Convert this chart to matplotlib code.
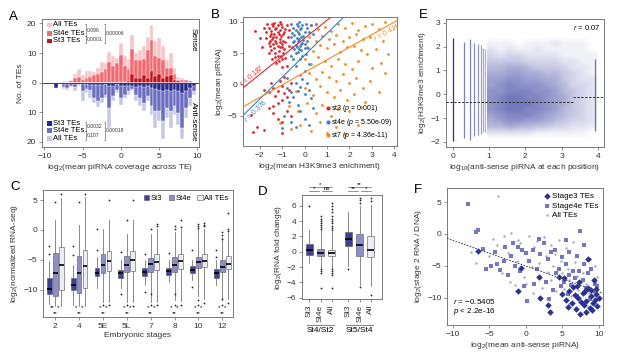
import numpy as np
import matplotlib
matplotlib.use("Agg")
import matplotlib.pyplot as plt
from matplotlib.patches import Patch, Rectangle
from matplotlib.colors import LinearSegmentedColormap

plt.rcParams['font.family'] = ['Liberation Sans', 'DejaVu Sans']
plt.rcParams['mathtext.fontset'] = 'custom'
plt.rcParams['mathtext.rm'] = 'Liberation Sans'
plt.rcParams['mathtext.it'] = 'Liberation Sans:italic'
plt.rcParams['font.size'] = 6
plt.rcParams['axes.linewidth'] = 0.6
plt.rcParams['axes.edgecolor'] = '#666666'
plt.rcParams['axes.labelsize'] = 6
plt.rcParams['axes.labelcolor'] = '#333333'
for a in ('xtick', 'ytick'):
    plt.rcParams[a + '.major.size'] = 2.5
    plt.rcParams[a + '.major.width'] = 0.5
    plt.rcParams[a + '.color'] = '#666666'
    plt.rcParams[a + '.labelcolor'] = '#333333'
    plt.rcParams[a + '.labelsize'] = 6
    plt.rcParams[a + '.major.pad'] = 1.5

# ---------------- A: piRNA coverage histogram ----------------
a_bins = [-8.5, -8.0, -7.5, -7.0, -6.5, -6.0, -5.5, -5.0, -4.5, -4.0, -3.5, -3.0, -2.5,
          -2.0, -1.5, -1.0, -0.5, 0.0, 0.5, 1.0, 1.5, 2.0, 2.5, 3.0, 3.5, 4.0, 4.5, 5.0,
          5.5, 6.0, 6.5, 7.0, 7.5, 8.0, 8.5, 9.0, 9.5]
a_sense_all = [0, 0, 0.5, 0.5, 1, 3, 4.5, 2.5, 4, 4, 3.5, 5, 7, 6.5, 10.5, 9, 8.5, 13.5, 9,
               8, 16, 10, 11, 12.5, 15.5, 19.5, 14, 15, 12.5, 7.5, 10, 5, 2, 1.5, 1, 0.5, 0]
a_sense_st4e = [0, 0, 0, 0, 0.5, 1.5, 2, 1, 1.5, 2, 2.5, 3, 3.5, 4.5, 7, 5.5, 6.5, 9.5, 5.5,
                4.5, 11.5, 7.5, 7.5, 8, 11, 14.5, 9, 8.5, 7.5, 5, 5, 3, 1, 0.8, 0.8, 0.5, 0]
a_sense_st3 = [0, 0, 0, 0, 0, 0, 0, 0, 0, 0, 0, 0, 0, 0, 0, 0, 0, 0.3, 0.3, 0.5, 2.8, 1.5,
               1.5, 2.5, 1.5, 3.8, 2.3, 2.8, 1.5, 2.3, 2.5, 1, 0.5, 0.3, 0.3, 0, 0]
a_anti_all = [1.8, 0.5, 2, 2.3, 1.5, 2.8, 1, 6.3, 3.5, 5, 6.9, 8.3, 6.9, 5, 15.4, 6.3, 3.4,
              7.4, 5, 4, 2.9, 6.3, 8, 9.7, 6.3, 10.9, 15.4, 13, 19, 12, 15.4, 10.9, 14.3,
              18.9, 12, 8, 4]
a_anti_st4e = [1.8, 0.3, 1.5, 1.9, 1.1, 1.5, 0.5, 2.9, 2, 2.3, 5.1, 6.3, 5.1, 4, 8.6, 4.6,
               2.3, 5.1, 4, 2.9, 2, 4, 5.1, 6.9, 4.6, 8, 9.7, 9.7, 13, 8.6, 9.7, 8, 10.3,
               15.4, 8.6, 5.1, 2.9]
a_anti_st3 = [1.8, 0, 0.5, 0.5, 0.5, 0.5, 0, 0.5, 0.5, 0.8, 0.8, 0.8, 0.8, 0.5, 1, 1, 0.5,
              1, 1, 1, 1.1, 1.5, 1.2, 1.5, 1.2, 1.8, 2, 2.3, 2.9, 2.3, 2.9, 2.3, 2.9, 3.4,
              2.9, 1.9, 1]
a_sense_labels = ['All TEs', 'St4e TEs', 'St3 TEs']
a_sense_p = ['0.096', '0.0001', '0.00006']
a_anti_labels = ['St3 TEs', 'St4e TEs', 'All TEs']
a_anti_p = ['0.0032', '0.107', '0.00018']

# ---------------- B: piRNA vs H3K9me3 ----------------
b_st3_x = [-1.6, -1.5, -1.4, -1.3, -1.2, -1.1, -1.0, -0.9, -1.55, -1.45, -1.35, -1.25, -1.15,
           -1.05, -0.95, -1.6, -1.4, -1.3, -1.2, -1.1, -1.0, -0.9, -1.5, -1.3, -1.15, -1.05,
           -0.85, -1.7, -1.65, -0.8, -1.35, -1.1, -0.75, -1.45, -1.25, -1.0, -0.8, -2.0, -2.2,
           -1.9, -1.45, -1.25, -1.05, -0.85, -1.5, -1.2, -0.95, -1.4, -1.1, -0.85, -1.55,
           -1.25, -1.0, -1.35, -1.1, -0.95, -1.2, -1.55, -1.7, -1.8, -0.7, -0.7, -1.0, -1.3,
           -1.6, -1.15,
           -1.4, -1.2, -1.0, -0.9, -1.1, -1.3, -0.7, -1.5, -0.8, -1.0, -1.6, -1.2, -1.4, -0.6,
           -0.9, -2.1, -1.8, -1.4, -1.2, -1.0, -0.8, -1.6, -2.4, -1.0, -0.6, -1.8, -2.3]
b_st3_y = [9.0, 8.5, 9.3, 8.8, 9.5, 8.7, 9.1, 8.4, 7.8, 7.2, 8.0, 7.5, 8.1, 7.7, 7.0, 6.6, 6.4,
           6.9, 6.2, 6.8, 6.0, 5.6, 5.5, 5.0, 5.4, 4.6, 4.2, 8.3, 9.6, 9.4, 9.8, 9.9, 7.5, 4.1,
           3.4, 2.8, 3.0, 7.4, 8.5, 6.0, 9.7, 9.0, 9.6, 8.9, 8.0, 8.4, 8.0, 7.6, 7.3, 6.8, 7.0,
           6.6, 6.5, 5.8, 5.9, 5.0, 4.5, 6.1, 7.4, 9.0, 8.6, 6.2, 4.0, 4.3, 5.0, 3.8,
           -0.5, -1.0, -0.3, -1.3, 0.5, -1.8, -0.8, 0.2, -2.0, -2.5, -1.2, -3.0, -3.5, 0.3,
           1.2, -6.8, -7.2, -4.6, -5.5, -6.0, -4.2, -3.8, -4.8, -7.8, -5.0, -0.8, -7.5]
b_st4e_x = [-0.5, -0.4, -0.3, -0.2, -0.1, 0.0, -0.45, -0.35, -0.25, -0.15, -0.05, -0.5, -0.4,
            -0.3, -0.2, -0.1, 0.0, -0.45, -0.3, -0.15, 0.05, -0.6, -0.25, 0.1, 0.3, 0.5, 0.1,
            -0.6, -0.2, 0.2, -0.4, 0.0, -0.55, -0.35, -0.15, 0.05, -0.45, -0.25, -0.05, -0.35,
            -0.15, -0.55, -0.25, 0.0, -0.4, -0.1, 0.15, -0.6, 0.2, -0.3, 0.4, -0.5,
            -0.8, -0.6, -0.4, -0.3, -0.2, 0.0, 0.2, -0.5, -0.1, 0.1, -0.7, -0.3, 0.3, -0.2, 0.0,
            -0.6, -0.9, -0.4, 0.4, -1.0, 0.2, -0.8]
b_st4e_y = [9.0, 8.6, 9.3, 8.8, 9.5, 8.4, 7.9, 7.4, 8.1, 7.6, 7.1, 6.8, 6.3, 6.9, 6.1, 6.6,
            5.8, 5.6, 5.2, 5.5, 4.8, 9.6, 9.9, 9.0, 9.4, 9.6, 7.0, 4.5, 4.0, 3.2, 3.0, 2.2, 8.2,
            9.6, 9.0, 9.7, 7.0, 7.2, 7.8, 6.0, 6.4, 5.9, 5.6, 6.5, 5.0, 4.5, 5.8, 7.5, 8.3,
            8.4, 8.0, 4.0,
            -0.5, -1.2, 0.3, -1.0, -0.4, -1.5, -0.8, -2.0, 0.8, 0.2, -2.8, -3.3, -2.2, -4.2,
            -5.5, -6.0, -5.0, -6.8, -3.8, -7.0, -6.5, 1.0]
b_st7_x = [0.3, 0.6, 0.9, 1.2, 1.5, 1.8, 2.1, 2.4, 2.7, 3.0, 3.3, 3.6,
           0.2, 0.5, 0.8, 1.1, 1.4, 1.7, 2.0, 2.3, 2.6, 2.9, 3.5,
           0.1, 0.4, 0.7, 1.0, 1.3, 1.6, 1.9, 2.2, 2.5, 2.8, 3.2, 3.7,
           0.0, 0.3, 0.6, 0.9, 1.2, 1.5, 1.8, 2.1, 2.4, 3.0, 3.4,
           -0.2, 0.2, 0.5, 0.8, 1.1, 1.4, 1.7, 2.0, 2.3, 2.6, 2.9, 3.6,
           -0.4, 0.0, 0.4, 0.7, 1.0, 1.3, 1.6, 1.9, 2.2, 2.7, 3.3,
           -0.7, -0.3, 0.1, 0.5, 0.8, 1.2, 1.5, 2.0, 2.5,
           -1.1, -0.6, -0.2, 0.3, 0.7, 1.0, 1.4, 1.8, 2.4]
b_st7_y = [9.5, 8.8, 9.2, 8.5, 9.6, 9.0, 9.8, 8.7, 9.3, 9.7, 8.8, 10.0,
           7.5, 7.0, 7.8, 7.3, 7.9, 6.9, 7.6, 8.0, 7.2, 7.5, 7.0,
           6.0, 5.4, 6.3, 5.8, 6.5, 5.2, 5.9, 6.2, 5.5, 4.8, 5.6, 4.8,
           4.0, 3.3, 4.4, 3.8, 2.9, 4.1, 3.2, 2.5, 3.7, 2.7, 3.5,
           1.5, 1.8, 0.8, 2.0, 1.2, 0.5, 1.6, 0.2, 1.0, -0.5, 0.6, 1.8,
           -1.0, -0.6, -1.6, -0.2, -1.2, -2.0, -0.8, -2.5, -1.5, -2.8, -1.2,
           -3.5, -4.2, -3.0, -4.6, -3.3, -5.0, -3.9, -4.3, -3.6,
           -6.2, -7.1, -6.5, -7.4, -6.0, -7.7, -6.8, -7.9, -6.4]
b_fit_st3 = ([-2.76, 1.18], [-0.6, 10.75])
b_fit_st4e = ([-2.76, 1.75], [-5.0, 10.75])
b_fit_st7 = ([-2.76, 4.13], [-3.6, 10.2])
b_labels = ['st3 ($p$ = 0.001)', 'st4e ($p$ = 5.50e-09)', 'st7 ($p$ = 4.36e-11)']
b_r = ['$r$ = 0.187', '$r$ = 0.378', '$r$ = 0.424']

# ---------------- E: H3K9me3 vs anti-sense piRNA per position ----------------
# point density of the cloud, rows from y=2.5 (top) to y=-2.0, cols x=0.95..3.95
e_density = [
    [0, 0, 0, 0, 0, 0, 0, 0, 0, 0, 0, 0],
    [1, 1, 1, 0, 1, 1, 1, 2, 1, 1, 1, 0],
    [2, 1, 2, 1, 1, 2, 1, 1, 1, 1, 1, 0],
    [3, 2, 3, 3, 2, 2, 2, 2, 1, 1, 1, 1],
    [4, 4, 4, 4, 3, 3, 3, 3, 2, 2, 1, 1],
    [5, 5, 6, 6, 5, 4, 4, 4, 3, 2, 2, 1],
    [6, 6, 7, 7, 6, 6, 5, 5, 4, 3, 2, 1],
    [7, 7, 8, 8, 7, 7, 6, 6, 4, 3, 2, 2],
    [7, 8, 9, 8, 8, 8, 7, 6, 5, 3, 3, 2],
    [8, 8, 9, 9, 9, 8, 8, 7, 5, 4, 3, 2],
    [8, 9, 10, 10, 9, 9, 8, 7, 6, 4, 3, 2],
    [8, 9, 10, 10, 10, 9, 8, 7, 6, 4, 3, 2],
    [8, 9, 10, 10, 9, 9, 8, 7, 5, 4, 3, 2],
    [7, 8, 9, 9, 9, 8, 7, 6, 5, 4, 3, 2],
    [6, 7, 8, 8, 7, 7, 6, 5, 4, 3, 3, 2],
    [5, 5, 6, 5, 5, 4, 4, 3, 3, 2, 2, 1],
    [2, 2, 2, 2, 2, 1, 1, 1, 1, 1, 1, 0],
    [0, 0, 0, 0, 0, 0, 0, 0, 0, 0, 0, 0],
]
e_stripe_x = [0.0, 0.301, 0.477, 0.602, 0.699, 0.778, 0.845, 0.903, 3.9]
e_stripe_lo = [-1.95, -1.85, -1.9, -1.75, -1.7, -1.65, -1.6, -1.6, -1.55]
e_stripe_hi = [2.35, 2.2, 2.3, 2.15, 2.1, 2.05, 1.95, 1.9, 1.5]
e_trend_left = ([-0.18, 3.3], [-0.33, -0.33])
e_trend_right = ([3.3, 4.16], [-0.11, -0.11])

# ---------------- C: RNA-seq across stages ----------------
c_stages = ['2', '4', '5E', '5L', '7', '8', '10', '12']
c_st3 = dict(q1=[-10.7, -10.0, -7.8, -8.0, -7.8, -7.6, -7.2, -8.0],
             med=[-9.85, -9.3, -7.2, -7.3, -7.0, -6.9, -6.65, -7.2],
             q3=[-8.0, -8.0, -6.3, -6.7, -6.3, -6.3, -6.1, -6.5],
             lo=[-12.4, -12.6, -9.8, -9.7, -9.3, -8.8, -8.4, -9.3],
             hi=[-5.2, -5.9, -4.6, -5.0, -5.1, -5.1, -5.1, -5.1],
             out=[[-4.0, -2.7], [-4.2, -2.7], [-3.4, 0.1], [-3.7, -10.8], [-4.0, -10.4],
                  [-3.9], [-3.4, -9.5], [-4.6, -3.4]])
c_st4e = dict(q1=[-11.1, -10.6, -7.2, -7.0, -7.0, -7.0, -6.3, -7.0],
              med=[-7.2, -7.3, -5.9, -5.9, -5.75, -5.8, -5.4, -6.2],
              q3=[-3.85, -4.4, -4.1, -4.3, -4.7, -4.6, -4.5, -5.0],
              lo=[-12.8, -12.8, -12.1, -12.1, -12.1, -11.8, -11.1, -11.8],
              hi=[1.6, 0.8, 0.2, -0.6, -0.6, -0.3, 0.1, -1.2],
              out=[[4.7], [4.7], [-12.6], [1.6, -12.6], [0.1, -10.8, -12.6],
                   [0.1, 0.6, -10.8, -12.6], [0.6, 0.3, 1.0, -11.8, -12.6],
                   [-0.4, -0.8, -1.6, -11.6, -12.6]])
c_all = dict(q1=[-10.0, -9.7, -6.9, -6.9, -6.65, -6.6, -6.2, -6.5],
             med=[-5.9, -6.1, -5.2, -5.1, -5.4, -5.25, -5.25, -5.65],
             q3=[-2.85, -3.4, -3.5, -3.6, -4.0, -4.0, -4.1, -4.4],
             lo=[-12.8, -12.8, -12.1, -12.1, -12.1, -12.0, -11.5, -11.5],
             hi=[5.3, 5.5, 1.6, 1.6, 0.1, 0.1, 0.1, -0.5],
             out=[[6.0], [6.0], [5.0, -12.6], [5.0, -12.8], [1.0, 0.6, -12.6],
                  [1.6, 0.5, -12.6], [0.6, 0.9, 1.2, -12.2], [2.9, 0.2, -0.2, -12.2]])
c_sig_left = ['**', '*', '*', '*', '*', '*', '*', '*']
c_sig_right = ['*', '*', '*', '*', '*', '*', '*', '*']
c_sig_mid = ['**', '**', '**', '**', '**', '**', '**', '**']

# ---------------- D: RNA fold change ----------------
d_ticklabels = ['St3', 'St4e', 'All', 'St3', 'St4e', 'All']
d_groups = ['St4/St2', 'St5/St4']
d_q1 = [-0.48, -0.52, -0.5, 0.73, -0.5, -0.74]
d_med = [0.21, -0.18, -0.13, 1.64, 0.9, 0.25]
d_q3 = [1.03, 0.34, 0.25, 2.6, 2.3, 2.0]
d_lo = [-1.5, -2.1, -2.1, -1.8, -4.3, -4.5]
d_hi = [2.9, 2.85, 2.6, 5.2, 6.0, 6.1]
d_out = [[6.0],
         [4.6, 4.3, 4.0, 3.8, 3.5, 3.2, 3.0, -2.3, -2.5, -2.8, -4.7],
         [6.4, 6.0, 5.6, 5.2, 4.6, 4.3, 4.0, 3.7, 3.4, 3.1, 2.9, -2.3, -2.5, -2.7, -3.0, -4.7],
         [-2.2],
         [7.0, 6.7, 6.4, -4.6],
         [7.0, 6.6, -5.6]]
d_sig = [('*', '*', 'ns'), ('**', '**', '*')]

# ---------------- F: RNA/DNA vs anti-sense piRNA ----------------
f_st3_x = [-6.6, -0.6, -1.0, 1.8, 2.0, 3.0, 3.3, 4.5, 5.2, 5.5, 6.0, 6.3, 6.7, 7.0, 7.2, 7.5,
           7.8, 8.0, 8.2, 8.5, 8.6, 8.8, 9.0, 9.2, 9.4, 9.6, 9.8, 10.0, 5.8, 6.9, 8.3, 9.1,
           7.6, 8.9, 9.5, 6.5, 5.0, 7.3, 8.1, 9.7]
f_st3_y = [-2.7, -5.4, -8.9, -6.8, -10.0, -11.2, -12.2, -6.8, -7.0, -10.3, -9.0, -10.8, -9.6,
           -8.2, -10.0, -12.6, -9.3, -11.2, -10.5, -3.9, -8.5, -11.6, -9.8, -10.8, -7.2, -9.5,
           -11.3, -10.1, -11.4, -11.8, -12.2, -12.0, -10.7, -8.8, -10.4, -8.3, -9.5, -7.5,
           -9.0, -8.7]
f_st4e_x = [-7.9, -6.8, -6.5, -5.5, -5.8, -4.2, -4.0, -3.0, -2.5, -2.0, -1.5, -1.0, -0.8, -0.5,
            0.0, 0.5, 1.0, 1.5, 2.0, 2.5, 3.0, 3.5, 4.0, 4.5, 5.0, 5.5, 6.0, 6.5, 7.0, 7.5,
            8.0, 8.5, 9.0, 9.5, 5.2, 6.2, 6.8, 7.8, 8.2, 9.2, 5.8, 7.0, 8.8, 4.8, 3.8, 2.8,
            1.2, -1.8, -3.5, 0.2, 6.0, 7.3, 9.8, 3.2, 4.2, -2.8, 1.8, -0.2, 8.0, 5.5, -4.8]
f_st4e_y = [4.7, 0.3, 0.6, -5.5, -2.4, -2.8, -4.8, -4.3, -6.5, -3.4, -5.0, -2.0, -5.8, -2.5,
            -3.0, -4.2, -2.5, -5.5, -3.1, -1.5, -4.0, -2.8, -2.6, -5.5, -3.6, -4.8, -2.9, -5.8,
            -3.5, 0.4, -4.8, -6.2, -5.5, -7.8, -7.5, -8.0, -7.0, -7.2, -8.5, -9.0, -9.5, -9.8,
            -10.2, -8.2, -8.8, -7.6, -7.8, -1.5, -5.6, -10.6, -6.4, -5.8, -8.2, -10.2, -6.2,
            -2.1, -0.8, -8.2, -1.7, -1.0, -5.0]
f_all_x = [-3.8, -6.8, -7.5, -4.5, -3.0, -2.0, -1.0, 0.5, 1.5, 2.5, 3.5, 4.5, 5.5, 6.5, -5.0,
           -3.2, -2.2, -1.2, -0.3, 0.8, 1.8, 2.8, 3.8, 4.8, 5.8, 6.8, 7.8, 8.8, 9.8, 4.2, 5.2,
           6.2, 7.2, 8.2, 9.2, 3.0, 2.2, 1.0, -1.5, 0.0, 6.0, 8.5, 7.0, 9.5, 5.0, 3.5, -4.0,
           -2.5, -0.8, 1.2, 2.0, 4.0, 6.0, 7.5, 8.7]
f_all_y = [5.9, -4.6, -2.8, -0.8, -0.4, 0.2, -0.9, -0.3, -1.1, -0.5, -1.7, -0.9, -2.2, -1.3,
           -3.5, -6.2, -7.6, -4.2, -6.8, -5.2, -4.5, -3.5, -5.0, -4.3, -5.5, -4.4, -6.2, -4.0,
           -6.8, -9.0, -8.7, -9.7, -8.8, -7.8, -7.3, -6.0, -8.5, -9.2, -8.0, -7.8, -11.0,
           -11.5, -6.6, -5.0, -6.2, -7.2, -1.8, -3.0, -1.5, -2.0, -6.8, -3.2, -7.3, -7.7, -9.3]
f_fit = ([-10.8, 10.6], [-0.7, -9.3])
f_labels = ['Stage3 TEs', 'Stage4e TEs', 'All TEs']

# ---------------- colours ----------------
red3, red4, red_all = '#c0141d', '#ee6b72', '#f7c4c7'
blu3, blu4, blu_all = '#262a8c', '#6b6ec0', '#c6c8e7'
box_cols = ['#3c4097', '#8c8fca', '#ececf6']

W, H = 617, 357
fig = plt.figure(figsize=(W / 100, H / 100), dpi=100)


def add_ax(l, t, r, b):
    return fig.add_axes([l / W, 1 - b / H, (r - l) / W, (b - t) / H])


def panel(x, y, s):
    fig.text(x / W, 1 - y / H, s, fontsize=9.5, ha='center', va='center')


def angle_of(ax, xs, ys):
    p = ax.transData.transform(np.column_stack([xs, ys]))
    return np.degrees(np.arctan2(p[1, 1] - p[0, 1], p[1, 0] - p[0, 0]))


# ===== A =====
ax = add_ax(42, 19, 199, 147)
kw = dict(width=0.5, edgecolor='white', linewidth=0.3)
ax.bar(a_bins, a_sense_all, color=red_all, **kw)
ax.bar(a_bins, a_sense_st4e, color=red4, **kw)
ax.bar(a_bins, a_sense_st3, color=red3, **kw)
ax.bar(a_bins, [-v for v in a_anti_all], color=blu_all, **kw)
ax.bar(a_bins, [-v for v in a_anti_st4e], color=blu4, **kw)
ax.bar(a_bins, [-v for v in a_anti_st3], color=blu3, **kw)
ax.axhline(0, color='#444444', lw=0.7)
ax.set_xlim(-10.3, 10.2)
ax.set_ylim(-21.7, 21.5)
ax.set_xticks([-10, -5, 0, 5, 10])
ax.set_yticks([20, 10, 0, -10, -20])
ax.set_yticklabels(['20', '10', '0', '10', '20'])
ax.set_xlabel('log$_2$(mean piRNA coverage across TE)', labelpad=1.5)
ax.set_ylabel('No. of TEs', labelpad=2)
ax.text(0.985, 0.93, 'Sense', transform=ax.transAxes, rotation=270, ha='right', va='top',
        fontsize=6)
ax.text(0.985, 0.04, 'Anti-sense', transform=ax.transAxes, rotation=270, ha='right',
        va='bottom', fontsize=6)


def fx(px):
    return (px - 42) / 157


def fy(py):
    return 1 - (py - 19) / 128


def legend_block(rows_y, labels, cols, pvals, br_y):
    for yy, lab, c in zip(rows_y, labels, cols):
        ax.add_patch(Rectangle((fx(47.5), fy(yy + 2.2)), 4.5 / 157, 4.4 / 128,
                               transform=ax.transAxes, color=c, lw=0))
        ax.text(fx(53), fy(yy), lab, transform=ax.transAxes, fontsize=5.5, va='center')
    segs = [(86, br_y[0], br_y[1]), (86, br_y[1], br_y[2]), (105, br_y[0], br_y[2])]
    for (bx, y0, y1), p in zip(segs, pvals):
        ax.plot([fx(bx - 1.2), fx(bx), fx(bx), fx(bx - 1.2)], [fy(y0), fy(y0), fy(y1), fy(y1)],
                transform=ax.transAxes, color='#555555', lw=0.4)
        ax.text(fx(bx + 1), fy((y0 + y1) / 2), p, transform=ax.transAxes, fontsize=3.6,
                va='center', color='#333333')


legend_block([25, 33.3, 41], a_sense_labels, [red_all, red4, red3], a_sense_p, [24, 36, 43])
legend_block([123.3, 130.7, 138.3], a_anti_labels, [blu3, blu4, blu_all], a_anti_p,
             [121.5, 130.5, 140])
panel(13, 17, 'A')

# ===== B =====
ax = add_ax(243, 17, 397, 146)
ax.set_xlim(-2.74, 4.12)
ax.set_ylim(-9.8, 10.75)
ax.scatter(b_st7_x, b_st7_y, s=4, color='#f08a24', linewidths=0, label=b_labels[2], zorder=2)
ax.scatter(b_st4e_x, b_st4e_y, s=4, color='#3c7fc1', linewidths=0, label=b_labels[1], zorder=3)
ax.scatter(b_st3_x, b_st3_y, s=4, color='#e0262d', linewidths=0, label=b_labels[0], zorder=4)
fits = [(b_fit_st3, '#e0262d', b_r[0], -2.25, 'bottom'),
        (b_fit_st4e, '#3c7fc1', b_r[1], -2.35, 'top'),
        (b_fit_st7, '#f08a24', b_r[2], 3.55, 'top')]
for (xs, ys), c, txt, tx, va in fits:
    ax.plot(xs, ys, color=c, lw=0.8, zorder=5)
    ang = angle_of(ax, xs, ys)
    ty = np.interp(tx, xs, ys)
    ax.text(tx, ty, txt, color=c, fontsize=5, rotation=ang, rotation_mode='anchor',
            ha='center', va=va, zorder=6)
h, l = ax.get_legend_handles_labels()
ax.legend(h[::-1], l[::-1], loc='lower right', frameon=False, fontsize=5, handletextpad=0.0,
          borderaxespad=0.3, labelspacing=0.35, markerscale=1.5, handlelength=1.0)
ax.set_xticks([-2, -1, 0, 1, 2, 3, 4])
ax.set_yticks([-5, 0, 5, 10])
ax.set_xlabel('log$_2$(mean H3K9me3 enichment)', labelpad=1.5)
ax.set_ylabel('log$_2$(mean piRNA)', labelpad=2)
panel(215, 15, 'B')

# ===== E =====
ax = add_ax(446, 19, 604, 147)
cmap = LinearSegmentedColormap.from_list('bl', ['#ffffff', '#4a4fa8'])
ax.imshow(e_density, extent=[0.95, 3.95, -2.0, 2.5], aspect='auto', cmap=cmap,
          interpolation='bilinear', vmin=0, vmax=13, zorder=1)
stripe_cols = ['#2e3393', '#7b7fc2', '#7b7fc2', '#8a8dc8', '#9497cc', '#9ea0d0', '#a8aad5',
               '#b0b2d9', '#6a6eb9']
ax.vlines(e_stripe_x, e_stripe_lo, e_stripe_hi, colors=stripe_cols, linewidth=0.9, zorder=2)
ax.plot(*e_trend_left, color='#333333', lw=0.7, ls=(0, (2.5, 1.5)), zorder=3)
ax.plot(*e_trend_right, color='#333333', lw=0.7, ls=(0, (2.5, 1.5)), zorder=3)
ax.set_xlim(-0.18, 4.16)
ax.set_ylim(-2.21, 3.16)
ax.set_xticks([0, 1, 2, 3, 4])
ax.set_yticks([-2, -1, 0, 1, 2, 3])
ax.text(0.98, 0.93, '$r$ = 0.07', transform=ax.transAxes, ha='right', va='center', fontsize=5.5)
ax.set_xlabel('log$_{10}$(anti-sense piRNA at each position)', labelpad=1.5)
ax.set_ylabel('log$_2$(H3K9me3 enrichment)', labelpad=2)
panel(423, 15, 'E')

# ===== C =====
ax = add_ax(43, 190, 233, 317)
flier = dict(marker='o', markersize=1.3, markerfacecolor='#222222', markeredgewidth=0)
for k, (grp, col) in enumerate(zip([c_st3, c_st4e, c_all], box_cols)):
    stats = [dict(q1=grp['q1'][i], med=grp['med'][i], q3=grp['q3'][i], whislo=grp['lo'][i],
                  whishi=grp['hi'][i], fliers=grp['out'][i]) for i in range(8)]
    pos = [4 * i + 1 + k for i in range(8)]
    ax.bxp(stats, positions=pos, widths=0.8, patch_artist=True, showcaps=False,
           boxprops=dict(facecolor=col, edgecolor='#555555', linewidth=0.4),
           medianprops=dict(color='black', linewidth=1.2),
           whiskerprops=dict(color='#777777', linewidth=0.6, linestyle='-'),
           flierprops=flier, manage_ticks=False)
for i in range(8):
    g = 4 * i + 2
    ax.text(g - 0.5, -13.0, c_sig_left[i], ha='center', va='center', fontsize=4.5)
    ax.text(g + 0.5, -13.0, c_sig_right[i], ha='center', va='center', fontsize=4.5)
    ax.text(g, -14.1, c_sig_mid[i], ha='center', va='center', fontsize=4.5)
ax.set_xlim(-0.05, 31.8)
ax.set_ylim(-14.6, 6.7)
ax.set_xticks([4 * i + 2 for i in range(8)])
ax.set_xticklabels(c_stages)
ax.set_yticks([5, 0, -5, -10])
ax.set_xlabel('Embryonic stages', labelpad=1.5)
ax.set_ylabel('log$_2$(normalized RNA-seq)', labelpad=2)
ax.legend([Patch(facecolor=c, edgecolor='#555555', linewidth=0.4) for c in box_cols],
          ['St3', 'St4e', 'All TEs'], ncol=3, loc='upper right', frameon=False, fontsize=5.5,
          handlelength=0.7, handleheight=0.7, handletextpad=0.2, columnspacing=0.8,
          borderaxespad=0.2)
panel(15, 187, 'C')

# ===== D =====
ax = add_ax(302, 195, 382, 299)
d_pos = [1, 2, 3, 4.5, 5.5, 6.5]
for i in range(6):
    st = [dict(q1=d_q1[i], med=d_med[i], q3=d_q3[i], whislo=d_lo[i], whishi=d_hi[i],
               fliers=d_out[i])]
    ax.bxp(st, positions=[d_pos[i]], widths=0.6, patch_artist=True, showcaps=False,
           boxprops=dict(facecolor=box_cols[i % 3], edgecolor='#555555', linewidth=0.4),
           medianprops=dict(color='black', linewidth=1.2),
           whiskerprops=dict(color='#777777', linewidth=0.6, linestyle='-'),
           flierprops=flier, manage_ticks=False)
ax.set_xlim(0.34, 7.5)
ax.set_ylim(-6.15, 7.4)
ax.set_yticks([-6, -4, -2, 0, 2, 4, 6])
ax.set_xticks(d_pos)
ax.set_xticklabels(d_ticklabels, rotation=90)
ax.set_ylabel('log$_2$(RNA fold change)', labelpad=2)
for j, (top, left, right) in enumerate(d_sig):
    x0 = d_pos[3 * j]
    ax.plot([x0, x0 + 2], [8.5, 8.5], color='#666666', lw=0.5, clip_on=False)
    ax.plot([x0, x0 + 0.85], [7.95, 7.95], color='#666666', lw=0.5, clip_on=False)
    ax.plot([x0 + 1.15, x0 + 2], [7.95, 7.95], color='#666666', lw=0.5, clip_on=False)
    ax.text(x0 + 1, 8.5, top, ha='center', va='bottom', fontsize=4.5, clip_on=False)
    ax.text(x0 + 0.45, 7.95, left, ha='center', va='bottom', fontsize=4.5, clip_on=False)
    ax.text(x0 + 1.55, 7.95, right, ha='center', va='bottom', fontsize=4.5, clip_on=False)
    trans = ax.get_xaxis_transform()
    ax.plot([x0 - 0.2, x0 + 2.2], [-0.25, -0.25], transform=trans, color='#888888', lw=0.8,
            clip_on=False)
    ax.text(x0 + 1, -0.27, d_groups[j], transform=trans, ha='center', va='top', fontsize=6)
panel(263, 192, 'D')

# ===== F =====
ax = add_ax(447, 188, 603, 325)
ax.scatter(f_all_x, f_all_y, s=3, marker='o', color='#a3a5d6', linewidths=0,
           label=f_labels[2], zorder=2)
ax.scatter(f_st4e_x, f_st4e_y, s=7, marker='s', color='#7377bf', linewidths=0,
           label=f_labels[1], zorder=3)
ax.scatter(f_st3_x, f_st3_y, s=11, marker='D', color='#2b3191', linewidths=0,
           label=f_labels[0], zorder=4)
ax.plot(*f_fit, color='#555555', lw=0.8, ls=(0, (1.5, 1.2)), zorder=5)
ax.set_xlim(-10.8, 10.6)
ax.set_ylim(-14.3, 7.2)
ax.set_xticks([-10, -5, 0, 5, 10])
ax.set_yticks([5, 0, -5, -10])
h, l = ax.get_legend_handles_labels()
ax.legend(h[::-1], l[::-1], loc='upper right', frameon=False, fontsize=5.8, handletextpad=0.1,
          borderaxespad=0.2, labelspacing=0.2, handlelength=1.0)
ax.text(0.04, 0.175, '$r$ = \u22120.5405', transform=ax.transAxes, fontsize=5.8, va='center')
ax.text(0.04, 0.1, '$p$ < 2.2e-16', transform=ax.transAxes, fontsize=5.8, va='center')
ax.set_xlabel('log$_2$(mean anti-sense piRNA)', labelpad=1.5)
ax.set_ylabel('log$_2$(stage 2 RNA / DNA)', labelpad=2)
panel(418, 190, 'F')

fig.savefig('out.png', dpi=100)
